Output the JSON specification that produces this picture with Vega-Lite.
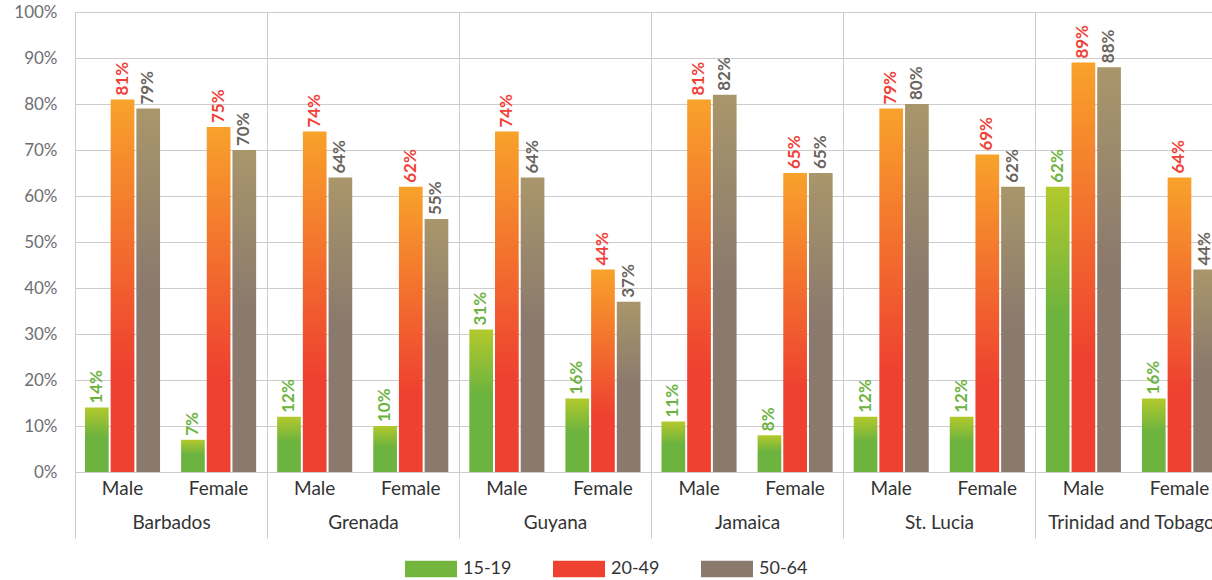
{
  "$schema": "https://vega.github.io/schema/vega-lite/v6.json",
  "width": 1137,
  "height": 460,
  "autosize": "none",
  "padding": {"left": 75, "top": 12, "right": 0, "bottom": 108},
  "background": "white",
  "config": {"view": {"stroke": null}, "font": "Lato"},
  "data": {
    "values": [
      {"country": "Barbados", "sex": "Male", "group": "Barbados|Male", "age": "15-19", "value": 14, "label": "14%"},
      {"country": "Barbados", "sex": "Male", "group": "Barbados|Male", "age": "20-49", "value": 81, "label": "81%"},
      {"country": "Barbados", "sex": "Male", "group": "Barbados|Male", "age": "50-64", "value": 79, "label": "79%"},
      {"country": "Barbados", "sex": "Female", "group": "Barbados|Female", "age": "15-19", "value": 7, "label": "7%"},
      {"country": "Barbados", "sex": "Female", "group": "Barbados|Female", "age": "20-49", "value": 75, "label": "75%"},
      {"country": "Barbados", "sex": "Female", "group": "Barbados|Female", "age": "50-64", "value": 70, "label": "70%"},
      {"country": "Grenada", "sex": "Male", "group": "Grenada|Male", "age": "15-19", "value": 12, "label": "12%"},
      {"country": "Grenada", "sex": "Male", "group": "Grenada|Male", "age": "20-49", "value": 74, "label": "74%"},
      {"country": "Grenada", "sex": "Male", "group": "Grenada|Male", "age": "50-64", "value": 64, "label": "64%"},
      {"country": "Grenada", "sex": "Female", "group": "Grenada|Female", "age": "15-19", "value": 10, "label": "10%"},
      {"country": "Grenada", "sex": "Female", "group": "Grenada|Female", "age": "20-49", "value": 62, "label": "62%"},
      {"country": "Grenada", "sex": "Female", "group": "Grenada|Female", "age": "50-64", "value": 55, "label": "55%"},
      {"country": "Guyana", "sex": "Male", "group": "Guyana|Male", "age": "15-19", "value": 31, "label": "31%"},
      {"country": "Guyana", "sex": "Male", "group": "Guyana|Male", "age": "20-49", "value": 74, "label": "74%"},
      {"country": "Guyana", "sex": "Male", "group": "Guyana|Male", "age": "50-64", "value": 64, "label": "64%"},
      {"country": "Guyana", "sex": "Female", "group": "Guyana|Female", "age": "15-19", "value": 16, "label": "16%"},
      {"country": "Guyana", "sex": "Female", "group": "Guyana|Female", "age": "20-49", "value": 44, "label": "44%"},
      {"country": "Guyana", "sex": "Female", "group": "Guyana|Female", "age": "50-64", "value": 37, "label": "37%"},
      {"country": "Jamaica", "sex": "Male", "group": "Jamaica|Male", "age": "15-19", "value": 11, "label": "11%"},
      {"country": "Jamaica", "sex": "Male", "group": "Jamaica|Male", "age": "20-49", "value": 81, "label": "81%"},
      {"country": "Jamaica", "sex": "Male", "group": "Jamaica|Male", "age": "50-64", "value": 82, "label": "82%"},
      {"country": "Jamaica", "sex": "Female", "group": "Jamaica|Female", "age": "15-19", "value": 8, "label": "8%"},
      {"country": "Jamaica", "sex": "Female", "group": "Jamaica|Female", "age": "20-49", "value": 65, "label": "65%"},
      {"country": "Jamaica", "sex": "Female", "group": "Jamaica|Female", "age": "50-64", "value": 65, "label": "65%"},
      {"country": "St. Lucia", "sex": "Male", "group": "St. Lucia|Male", "age": "15-19", "value": 12, "label": "12%"},
      {"country": "St. Lucia", "sex": "Male", "group": "St. Lucia|Male", "age": "20-49", "value": 79, "label": "79%"},
      {"country": "St. Lucia", "sex": "Male", "group": "St. Lucia|Male", "age": "50-64", "value": 80, "label": "80%"},
      {"country": "St. Lucia", "sex": "Female", "group": "St. Lucia|Female", "age": "15-19", "value": 12, "label": "12%"},
      {"country": "St. Lucia", "sex": "Female", "group": "St. Lucia|Female", "age": "20-49", "value": 69, "label": "69%"},
      {"country": "St. Lucia", "sex": "Female", "group": "St. Lucia|Female", "age": "50-64", "value": 62, "label": "62%"},
      {"country": "Trinidad and Tobago", "sex": "Male", "group": "Trinidad and Tobago|Male", "age": "15-19", "value": 62, "label": "62%"},
      {"country": "Trinidad and Tobago", "sex": "Male", "group": "Trinidad and Tobago|Male", "age": "20-49", "value": 89, "label": "89%"},
      {"country": "Trinidad and Tobago", "sex": "Male", "group": "Trinidad and Tobago|Male", "age": "50-64", "value": 88, "label": "88%"},
      {"country": "Trinidad and Tobago", "sex": "Female", "group": "Trinidad and Tobago|Female", "age": "15-19", "value": 16, "label": "16%"},
      {"country": "Trinidad and Tobago", "sex": "Female", "group": "Trinidad and Tobago|Female", "age": "20-49", "value": 64, "label": "64%"},
      {"country": "Trinidad and Tobago", "sex": "Female", "group": "Trinidad and Tobago|Female", "age": "50-64", "value": 44, "label": "44%"}
    ]
  },
  "layer": [
    {
      "mark": {"type": "bar", "opacity": 0},
      "encoding": {
        "x": {
          "field": "country", "type": "nominal", "sort": null,
          "scale": {"range": [0, 1152], "paddingInner": 0, "paddingOuter": 0},
          "axis": {
            "title": null, "orient": "bottom", "grid": true, "gridColor": "#cccccc", "gridWidth": 1,
            "tickBand": "extent", "tickSize": 66, "tickColor": "#cccccc", "tickWidth": 1,
            "domain": false, "labelPadding": -25, "labelFontSize": 19, "labelColor": "#333333",
            "labelAngle": 0, "labelFont": "Lato"
          }
        },
        "color": {
          "field": "age", "type": "nominal",
          "scale": {"domain": ["15-19", "20-49", "50-64"], "range": ["#74b53d", "#ee4130", "#8a796d"]},
          "legend": {
            "title": null, "orient": "none", "direction": "horizontal", "legendX": 330, "legendY": 531,
            "symbolType": "M-1,-0.32H1V0.32H-1Z", "symbolSize": 2704, "symbolStrokeWidth": 0,
            "symbolOpacity": 1, "labelFontSize": 18, "labelColor": "#333333", "labelFont": "Lato",
            "labelOffset": 6, "columnPadding": 41,
            "encode": {
              "symbols": {
                "update": {
                  "fill": {"signal": "datum.value === '15-19' ? {gradient: 'linear', x1: 0, y1: 0, x2: 0, y2: 1, stops: [{offset: 0, color: '#a9c632'}, {offset: 0.55, color: '#6db33f'}, {offset: 1, color: '#6db33f'}]} : datum.value === '20-49' ? {gradient: 'linear', x1: 0, y1: 0, x2: 0, y2: 1, stops: [{offset: 0, color: '#f7a02b'}, {offset: 0.55, color: '#ee4130'}, {offset: 1, color: '#ee4130'}]} : {gradient: 'linear', x1: 0, y1: 0, x2: 0, y2: 1, stops: [{offset: 0, color: '#a58f68'}, {offset: 0.45, color: '#8a796d'}, {offset: 1, color: '#8a796d'}]}"}
                }
              }
            }
          }
        }
      }
    },
    {
      "encoding": {
        "x": {
          "field": "group", "type": "nominal", "sort": null,
          "scale": {"range": [0, 1152], "paddingInner": 0.21875, "paddingOuter": 0.104},
          "axis": {
            "title": null, "orient": "bottom", "domain": false, "ticks": false, "grid": false,
            "labelExpr": "split(datum.value, '|')[1]", "labelAngle": 0, "labelFontSize": 19,
            "labelColor": "#333333", "labelPadding": 7, "labelFont": "Lato"
          }
        },
        "xOffset": {
          "field": "age", "type": "nominal",
          "scale": {"domain": ["15-19", "20-49", "50-64"], "paddingInner": 0.077, "paddingOuter": 0}
        },
        "y": {
          "field": "value", "type": "quantitative",
          "scale": {"domain": [0, 100], "nice": false},
          "axis": {
            "title": null, "values": [0, 10, 20, 30, 40, 50, 60, 70, 80, 90, 100],
            "labelExpr": "datum.value + '%'", "domain": false, "ticks": false,
            "grid": true, "gridColor": "#cccccc", "labelPadding": 18, "labelFontSize": 17,
            "labelColor": "#6d6e71", "labelFont": "Lato"
          }
        }
      },
      "layer": [
        {
          "mark": {"type": "bar"},
          "encoding": {
            "fill": {
              "condition": [
                {"test": "datum.age === '15-19'", "value": {"gradient": "linear", "x1": 0, "y1": 0, "x2": 0, "y2": 1, "stops": [{"offset": 0, "color": "#b3c92c"}, {"offset": 0.45, "color": "#6db33f"}, {"offset": 1, "color": "#6db33f"}]}},
                {"test": "datum.age === '20-49'", "value": {"gradient": "linear", "x1": 0, "y1": 0, "x2": 0, "y2": 1, "stops": [{"offset": 0, "color": "#f8a22b"}, {"offset": 0.72, "color": "#ee4130"}, {"offset": 1, "color": "#ee4130"}]}}
              ],
              "value": {"gradient": "linear", "x1": 0, "y1": 0, "x2": 0, "y2": 1, "stops": [{"offset": 0, "color": "#a9966b"}, {"offset": 0.5, "color": "#8a796d"}, {"offset": 1, "color": "#8a796d"}]}
            }
          }
        },
        {
          "mark": {"type": "text", "angle": 270, "align": "left", "baseline": "middle", "dx": 4, "fontSize": 17, "fontWeight": "bold", "font": "Lato"},
          "encoding": {
            "text": {"field": "label", "type": "nominal"},
            "color": {
              "condition": [
                {"test": "datum.age === '15-19'", "value": "#6db33f"},
                {"test": "datum.age === '20-49'", "value": "#ef4136"}
              ],
              "value": "#6b635c"
            }
          }
        }
      ]
    }
  ],
  "resolve": {"scale": {"x": "independent"}, "axis": {"x": "independent"}}
}
